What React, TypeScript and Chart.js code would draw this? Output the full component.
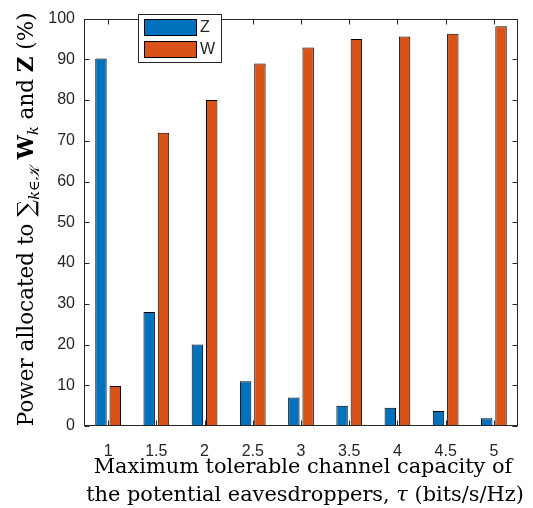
import React, { useEffect, useRef } from 'react';
import { Chart, registerables } from 'chart.js';

Chart.register(...registerables);

const categories = ['1', '1.5', '2', '2.5', '3', '3.5', '4', '4.5', '5'];
const zValues = [90.2, 28.0, 20.0, 11.0, 7.0, 5.0, 4.5, 3.7, 1.9];
const wValues = [9.8, 72.0, 80.0, 89.0, 92.9, 95.0, 95.6, 96.3, 98.1];
const seriesLabels = ['Z', 'W'];
const seriesColors = ['#0072BD', '#D95319'];
const yMin = 0;
const yMax = 100;
const yStep = 10;
const xTitleLine1 = 'Maximum tolerable channel capacity of';
const xTitleLine2 = ['the potential eavesdroppers, ', 'τ', ' (bits/s/Hz)'];

const AXIS = '#262626';
const SERIF = '"DejaVu Serif", "Liberation Serif", serif';
const SANS = '"Liberation Sans", Arial, Helvetica, sans-serif';

const decorPlugin = {
  id: 'decor',
  afterDraw(chart: any) {
    const { ctx, chartArea: a, scales } = chart;
    const x = scales.x;
    const y = scales.y;
    ctx.save();
    // frame
    ctx.strokeStyle = AXIS;
    ctx.lineWidth = 1;
    const L = Math.round(a.left) + 0.5;
    const R = Math.round(a.right) - 0.5;
    const T = Math.round(a.top) + 0.5;
    const B = Math.round(a.bottom) - 0.5;
    ctx.strokeRect(L, T, R - L, B - T);
    const tl = 5;
    ctx.beginPath();
    x.ticks.forEach((_: any, i: number) => {
      const px = Math.round(x.getPixelForTick(i)) + 0.5;
      ctx.moveTo(px, B);
      ctx.lineTo(px, B - tl);
      ctx.moveTo(px, T);
      ctx.lineTo(px, T + tl);
    });
    y.ticks.forEach((_: any, i: number) => {
      const py = Math.round(y.getPixelForTick(i)) + 0.5;
      ctx.moveTo(L, py);
      ctx.lineTo(L + tl, py);
      ctx.moveTo(R, py);
      ctx.lineTo(R - tl, py);
    });
    ctx.stroke();

    // legend
    const lx = 138.5, ly = 14.5, lw = 83, lh = 48;
    ctx.fillStyle = '#ffffff';
    ctx.fillRect(lx, ly, lw, lh);
    ctx.strokeStyle = AXIS;
    ctx.strokeRect(lx, ly, lw, lh);
    chart.data.datasets.forEach((ds: any, i: number) => {
      const sy = 19.5 + i * 22;
      ctx.fillStyle = ds.backgroundColor;
      ctx.fillRect(144.5, sy, 52, 16);
      ctx.strokeStyle = '#000000';
      ctx.strokeRect(144.5, sy, 52, 16);
      ctx.fillStyle = AXIS;
      ctx.font = `16px ${SANS}`;
      ctx.textAlign = 'left';
      ctx.textBaseline = 'middle';
      ctx.fillText(ds.label, 200, sy + 8.5);
    });

    // x title (font size fitted to the reference line width)
    ctx.fillStyle = '#000000';
    ctx.textBaseline = 'alphabetic';
    ctx.textAlign = 'left';
    ctx.font = `20px ${SERIF}`;
    const xs = (20 * 419) / ctx.measureText(xTitleLine1).width;
    const roman = `${xs}px ${SERIF}`;
    const ital = `italic ${xs}px ${SERIF}`;
    const cx = (a.left + a.right) / 2 + 2;
    ctx.font = roman;
    const w1 = ctx.measureText(xTitleLine1).width;
    ctx.fillText(xTitleLine1, cx - w1 / 2, 473);
    const fonts2 = [roman, ital, roman];
    let tot = 0;
    const ws = xTitleLine2.map((t, i) => {
      ctx.font = fonts2[i];
      const w = ctx.measureText(t).width;
      tot += w;
      return w;
    });
    let px = cx + 2 - tot / 2;
    xTitleLine2.forEach((t, i) => {
      ctx.font = fonts2[i];
      ctx.fillText(t, px, 501);
      px += ws[i];
    });

    // y title
    const mk = (s: number) => [
      { t: 'Power allocated to ', f: `${s}px ${SERIF}`, dy: 0 },
      { t: '∑', f: `${s * 1.1}px ${SERIF}`, dy: s * 0.05 },
      { t: 'k∈𝒦', f: `italic ${s * 0.68}px ${SERIF}`, dy: s * 0.28 },
      { t: ' ', f: `${s}px ${SERIF}`, dy: 0 },
      { t: 'W', f: `bold ${s}px ${SERIF}`, dy: 0 },
      { t: 'k', f: `italic ${s * 0.68}px ${SERIF}`, dy: s * 0.22 },
      { t: ' and ', f: `${s}px ${SERIF}`, dy: 0 },
      { t: 'Z', f: `bold ${s}px ${SERIF}`, dy: 0 },
      { t: ' (%)', f: `${s}px ${SERIF}`, dy: 0 },
    ];
    const measure = (segs: any[]) => {
      let total = 0;
      const sw = segs.map((sg) => {
        ctx.font = sg.f;
        const w = ctx.measureText(sg.t).width;
        total += w;
        return w;
      });
      return { total, sw };
    };
    const base = measure(mk(20));
    const ys = (20 * 414) / base.total;
    const segs = mk(ys);
    const { total, sw } = measure(segs);
    ctx.translate(33, (a.top + a.bottom) / 2 - 3);
    ctx.rotate(-Math.PI / 2);
    let ox = -total / 2;
    segs.forEach((sg, i) => {
      ctx.font = sg.f;
      ctx.fillText(sg.t, ox, sg.dy);
      ox += sw[i];
    });
    ctx.restore();
  },
};

export default function App() {
  const ref = useRef<HTMLCanvasElement | null>(null);
  useEffect(() => {
    if (!ref.current) return;
    const chart = new Chart(ref.current, {
      type: 'bar',
      data: {
        labels: categories,
        datasets: [
          {
            label: seriesLabels[0],
            data: zValues,
            backgroundColor: seriesColors[0],
            borderColor: '#000000',
            borderWidth: 1,
            borderSkipped: false,
            categoryPercentage: 0.593,
            barPercentage: 0.8,
          },
          {
            label: seriesLabels[1],
            data: wValues,
            backgroundColor: seriesColors[1],
            borderColor: '#000000',
            borderWidth: 1,
            borderSkipped: false,
            categoryPercentage: 0.593,
            barPercentage: 0.8,
          },
        ],
      },
      options: {
        responsive: false,
        animation: false,
        devicePixelRatio: 1,
        layout: { padding: { top: 14, right: 15, left: 0, bottom: 0 } },
        plugins: { legend: { display: false }, tooltip: { enabled: false }, title: { display: false } },
        scales: {
          x: {
            type: 'category',
            offset: true,
            grid: { display: false, drawTicks: false },
            border: { display: false },
            ticks: { color: AXIS, font: { family: SANS, size: 16 }, padding: 16, maxRotation: 0 },
            afterFit: (s: any) => { s.height = 82; },
          },
          y: {
            min: yMin,
            max: yMax,
            grid: { display: false, drawTicks: false },
            border: { display: false },
            ticks: { stepSize: yStep, color: AXIS, font: { family: SANS, size: 16 }, padding: 9 },
            afterFit: (s: any) => { s.width = 84; },
          },
        },
      } as any,
      plugins: [decorPlugin],
    });
    return () => chart.destroy();
  }, []);
  return (
    <div style={{ position: 'fixed', left: 0, top: 0, width: 533, height: 508, background: '#fff' }}>
      <canvas ref={ref} width={533} height={508} />
    </div>
  );
}
